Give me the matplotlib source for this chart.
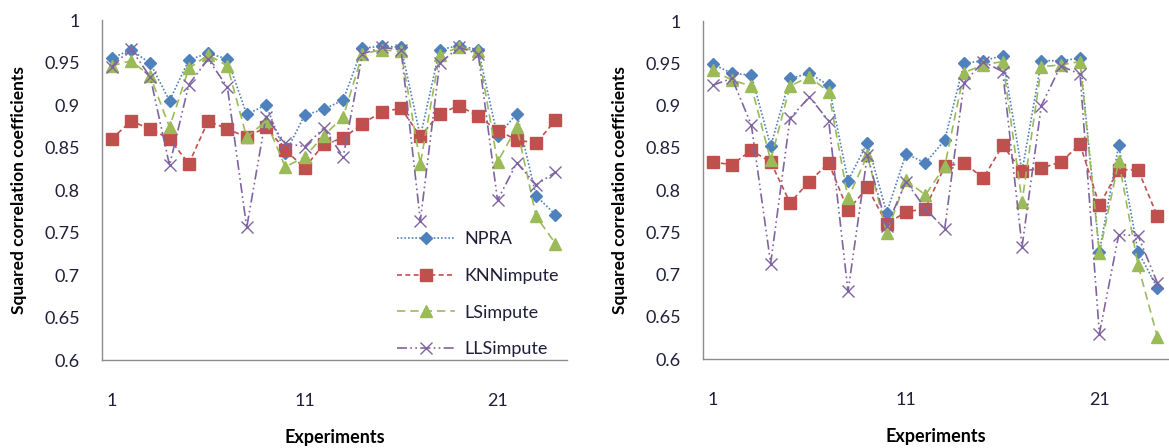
import matplotlib
matplotlib.use("Agg")
import matplotlib.pyplot as plt
from matplotlib.ticker import FixedLocator

experiments = list(range(1, 25))

# Panel (a)
npra_a = [0.955, 0.965, 0.949, 0.905, 0.953, 0.961, 0.954, 0.889, 0.900, 0.843,
          0.888, 0.895, 0.906, 0.967, 0.969, 0.968, 0.863, 0.965, 0.970, 0.965,
          0.863, 0.890, 0.793, 0.771]
knn_a = [0.860, 0.881, 0.872, 0.860, 0.831, 0.881, 0.872, 0.862, 0.874, 0.847,
         0.826, 0.854, 0.861, 0.878, 0.892, 0.896, 0.863, 0.890, 0.899, 0.887,
         0.870, 0.859, 0.855, 0.882]
ls_a = [0.946, 0.952, 0.934, 0.874, 0.943, 0.959, 0.946, 0.862, 0.881, 0.827,
        0.839, 0.864, 0.886, 0.960, 0.965, 0.963, 0.831, 0.959, 0.968, 0.963,
        0.833, 0.874, 0.769, 0.737]
lls_a = [0.945, 0.966, 0.933, 0.829, 0.924, 0.954, 0.921, 0.756, 0.886, 0.855,
         0.851, 0.873, 0.839, 0.960, 0.968, 0.965, 0.764, 0.949, 0.968, 0.960,
         0.788, 0.832, 0.806, 0.821]

# Panel (b)
npra_b = [0.949, 0.938, 0.936, 0.852, 0.932, 0.938, 0.924, 0.811, 0.856, 0.773,
          0.843, 0.832, 0.859, 0.950, 0.953, 0.959, 0.822, 0.953, 0.953, 0.956,
          0.727, 0.853, 0.727, 0.684]
knn_b = [0.833, 0.830, 0.847, 0.833, 0.785, 0.810, 0.832, 0.776, 0.803, 0.760,
         0.774, 0.778, 0.828, 0.832, 0.814, 0.853, 0.822, 0.826, 0.833, 0.854,
         0.782, 0.824, 0.824, 0.769]
ls_b = [0.942, 0.930, 0.923, 0.835, 0.923, 0.934, 0.916, 0.790, 0.841, 0.749,
        0.812, 0.794, 0.828, 0.939, 0.948, 0.952, 0.786, 0.946, 0.948, 0.952,
        0.725, 0.834, 0.711, 0.626]
lls_b = [0.924, 0.932, 0.877, 0.713, 0.885, 0.910, 0.882, 0.680, 0.841, 0.757,
         0.810, 0.778, 0.754, 0.927, 0.952, 0.940, 0.733, 0.900, 0.947, 0.937,
         0.630, 0.747, 0.746, 0.690]

series_names = ["NPRA", "KNNimpute", "LSimpute", "LLSimpute"]
y_ticks = [0.6, 0.65, 0.7, 0.75, 0.8, 0.85, 0.9, 0.95, 1.0]
y_tick_labels = ["0.6", "0.65", "0.7", "0.75", "0.8", "0.85", "0.9", "0.95", "1"]
x_ticks = [1, 11, 21]

styles = [
    dict(color="#4F81BD", linestyle=(0, (1, 1.2)), marker="D", markersize=6.5),
    dict(color="#C0504D", linestyle=(0, (3, 2)), marker="s", markersize=8.5),
    dict(color="#9BBB59", linestyle=(0, (5, 3)), marker="^", markersize=8),
    dict(color="#8064A2", linestyle=(0, (6, 2, 1, 2, 1, 2)), marker="x",
         markersize=8, markeredgewidth=1.0),
]

plt.rcParams["font.family"] = ["Lato", "DejaVu Sans"]
text_color = "#1f1f3a"

fig = plt.figure(figsize=(11.69, 4.48), dpi=100)
W, H = 1169, 448
ax_a = fig.add_axes([102 / W, 1 - 360 / H, 465 / W, 340 / H])
ax_b = fig.add_axes([703 / W, 1 - 359 / H, 466 / W, 338 / H])


def draw(ax, data, legend=False):
    lines = []
    for vals, name, st in zip(data, series_names, styles):
        ln, = ax.plot(experiments, vals, label=name, linewidth=1.2, **st)
        lines.append(ln)
    ax.set_xlim(0.5, 24.6)
    ax.set_ylim(0.6, 1.0)
    ax.yaxis.set_major_locator(FixedLocator(y_ticks))
    ax.set_yticklabels(y_tick_labels)
    ax.xaxis.set_major_locator(FixedLocator(x_ticks))
    ax.set_xticklabels([str(t) for t in x_ticks])
    for side in ("top", "right"):
        ax.spines[side].set_visible(False)
    for side in ("left", "bottom"):
        ax.spines[side].set_color("#8c8c8c")
        ax.spines[side].set_linewidth(1.0)
    ax.tick_params(axis="both", length=0, labelsize=13, colors=text_color)
    ax.tick_params(axis="y", pad=16)
    ax.tick_params(axis="x", pad=24)
    ax.set_xlabel("Experiments", fontsize=13, fontweight="bold",
                  color="black", labelpad=14)
    ax.set_ylabel("Squared correlation coefficients", fontsize=12.5,
                  fontweight="bold", color="black", labelpad=12)
    if legend:
        ax.legend(handles=lines, loc="lower left", bbox_to_anchor=(0.6, -0.04),
                  frameon=False, fontsize=13, handlelength=3.2,
                  labelspacing=1.15, handletextpad=0.5, labelcolor=text_color)


draw(ax_a, [npra_a, knn_a, ls_a, lls_a], legend=True)
draw(ax_b, [npra_b, knn_b, ls_b, lls_b])

fig.savefig("out.png", dpi=100)
